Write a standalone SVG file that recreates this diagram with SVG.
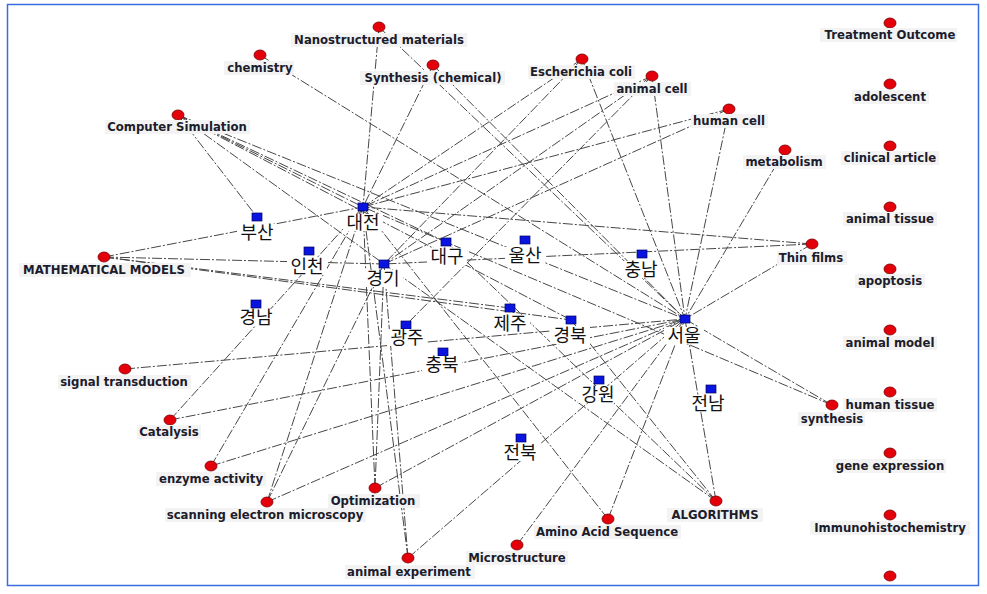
<svg xmlns="http://www.w3.org/2000/svg" width="987" height="594" viewBox="0 0 987 594">
<style>
.e{stroke:#474747;stroke-width:1;fill:none;stroke-dasharray:10 2 2 2}
.r{fill:#e4000a;stroke:#7a0000;stroke-width:0.8}
.b{fill:#0a14e0;stroke:#00005a;stroke-width:0.7}
.lb{fill:#f3f3f3}
.kb{fill:#ffffff}
.t{font-family:"DejaVu Sans",Verdana,sans-serif;font-weight:bold;font-size:11.7px;fill:#1c1c2c;text-anchor:middle}
.k{font-family:"Noto Sans CJK KR","Noto Sans CJK SC",sans-serif;font-size:18px;fill:#111;text-anchor:middle}
</style>
<rect x="0" y="0" width="987" height="594" fill="#ffffff"/>
<rect x="7.5" y="4.5" width="971" height="581" fill="none" stroke="#3a6ee0" stroke-width="1.5"/>
<g id="connectors">
<line class="e" x1="379" y1="27" x2="363" y2="207"/>
<line class="e" x1="379" y1="27" x2="685" y2="319"/>
<line class="e" x1="260" y1="55" x2="685" y2="319"/>
<line class="e" x1="433" y1="65" x2="363" y2="207"/>
<line class="e" x1="433" y1="65" x2="685" y2="319"/>
<line class="e" x1="582" y1="59" x2="363" y2="207"/>
<line class="e" x1="582" y1="59" x2="384" y2="264"/>
<line class="e" x1="582" y1="59" x2="685" y2="319"/>
<line class="e" x1="652" y1="76" x2="363" y2="207"/>
<line class="e" x1="652" y1="76" x2="384" y2="264"/>
<line class="e" x1="652" y1="76" x2="406" y2="325"/>
<line class="e" x1="652" y1="76" x2="685" y2="319"/>
<line class="e" x1="729" y1="109" x2="363" y2="207"/>
<line class="e" x1="729" y1="109" x2="384" y2="264"/>
<line class="e" x1="729" y1="109" x2="685" y2="319"/>
<line class="e" x1="785" y1="150" x2="685" y2="319"/>
<line class="e" x1="812" y1="244" x2="363" y2="207"/>
<line class="e" x1="812" y1="244" x2="384" y2="264"/>
<line class="e" x1="812" y1="244" x2="685" y2="319"/>
<line class="e" x1="178" y1="115" x2="257" y2="217"/>
<line class="e" x1="178" y1="115" x2="384" y2="264"/>
<line class="e" x1="178" y1="115" x2="363" y2="207"/>
<line class="e" x1="178" y1="115" x2="446" y2="242"/>
<line class="e" x1="178" y1="115" x2="571" y2="320"/>
<line class="e" x1="178" y1="115" x2="685" y2="319"/>
<line class="e" x1="104" y1="257" x2="363" y2="207"/>
<line class="e" x1="104" y1="257" x2="384" y2="264"/>
<line class="e" x1="104" y1="257" x2="510" y2="308"/>
<line class="e" x1="104" y1="257" x2="571" y2="320"/>
<line class="e" x1="125" y1="369" x2="685" y2="319"/>
<line class="e" x1="170" y1="420" x2="363" y2="207"/>
<line class="e" x1="170" y1="420" x2="685" y2="319"/>
<line class="e" x1="211" y1="466" x2="363" y2="207"/>
<line class="e" x1="211" y1="466" x2="685" y2="319"/>
<line class="e" x1="267" y1="502" x2="363" y2="207"/>
<line class="e" x1="267" y1="502" x2="384" y2="264"/>
<line class="e" x1="267" y1="502" x2="685" y2="319"/>
<line class="e" x1="375" y1="488" x2="363" y2="207"/>
<line class="e" x1="375" y1="488" x2="384" y2="264"/>
<line class="e" x1="375" y1="488" x2="685" y2="319"/>
<line class="e" x1="408" y1="558" x2="363" y2="207"/>
<line class="e" x1="408" y1="558" x2="384" y2="264"/>
<line class="e" x1="408" y1="558" x2="685" y2="319"/>
<line class="e" x1="517" y1="545" x2="685" y2="319"/>
<line class="e" x1="608" y1="519" x2="363" y2="207"/>
<line class="e" x1="608" y1="519" x2="685" y2="319"/>
<line class="e" x1="716" y1="501" x2="685" y2="319"/>
<line class="e" x1="716" y1="501" x2="384" y2="264"/>
<line class="e" x1="716" y1="501" x2="446" y2="242"/>
<line class="e" x1="716" y1="501" x2="571" y2="320"/>
<line class="e" x1="832" y1="405" x2="685" y2="319"/>
<line class="e" x1="832" y1="405" x2="363" y2="207"/>
</g>
<g id="n-nano"><ellipse class="r" cx="379" cy="27" rx="6" ry="5"/><rect class="lb" x="291" y="33" width="176" height="14"/><text class="t" x="379" y="44">Nanostructured materials</text></g>
<g id="n-chem"><ellipse class="r" cx="260" cy="55" rx="6" ry="5"/><rect class="lb" x="224" y="61" width="70" height="14"/><text class="t" x="260" y="72">chemistry</text></g>
<g id="n-synch"><ellipse class="r" cx="433" cy="65" rx="6" ry="5"/><rect class="lb" x="360" y="71" width="145" height="14"/><text class="t" x="433" y="82">Synthesis (chemical)</text></g>
<g id="n-ecoli"><ellipse class="r" cx="582" cy="59" rx="6" ry="5"/><rect class="lb" x="528" y="65" width="107" height="14"/><text class="t" x="581" y="76">Escherichia coli</text></g>
<g id="n-acell"><ellipse class="r" cx="652" cy="76" rx="6" ry="5"/><rect class="lb" x="614" y="82" width="77" height="14"/><text class="t" x="652" y="93">animal cell</text></g>
<g id="n-hcell"><ellipse class="r" cx="729" cy="109" rx="6" ry="5"/><rect class="lb" x="691" y="114" width="77" height="14"/><text class="t" x="729" y="125">human cell</text></g>
<g id="n-metab"><ellipse class="r" cx="785" cy="150" rx="6" ry="5"/><rect class="lb" x="743" y="155" width="83" height="14"/><text class="t" x="784" y="166">metabolism</text></g>
<g id="n-treat"><ellipse class="r" cx="890" cy="23" rx="6" ry="5"/><rect class="lb" x="820" y="28" width="137" height="14"/><text class="t" x="890" y="39">Treatment Outcome</text></g>
<g id="n-adol"><ellipse class="r" cx="890" cy="84" rx="6" ry="5"/><rect class="lb" x="852" y="90" width="77" height="14"/><text class="t" x="890" y="101">adolescent</text></g>
<g id="n-clin"><ellipse class="r" cx="890" cy="146" rx="6" ry="5"/><rect class="lb" x="841" y="151" width="98" height="14"/><text class="t" x="890" y="162">clinical article</text></g>
<g id="n-atis"><ellipse class="r" cx="890" cy="207" rx="6" ry="5"/><rect class="lb" x="843" y="212" width="94" height="14"/><text class="t" x="890" y="223">animal tissue</text></g>
<g id="n-thin"><ellipse class="r" cx="812" cy="244" rx="6" ry="5"/><rect class="lb" x="777" y="251" width="70" height="14"/><text class="t" x="811" y="262">Thin films</text></g>
<g id="n-apop"><ellipse class="r" cx="890" cy="269" rx="6" ry="5"/><rect class="lb" x="855" y="274" width="70" height="14"/><text class="t" x="890" y="285">apoptosis</text></g>
<g id="n-amod"><ellipse class="r" cx="890" cy="330" rx="6" ry="5"/><rect class="lb" x="843" y="336" width="94" height="14"/><text class="t" x="890" y="347">animal model</text></g>
<g id="n-htis"><ellipse class="r" cx="890" cy="392" rx="6" ry="5"/><rect class="lb" x="843" y="398" width="94" height="14"/><text class="t" x="890" y="409">human tissue</text></g>
<g id="n-synth"><ellipse class="r" cx="832" cy="405" rx="6" ry="5"/><rect class="lb" x="798" y="412" width="67" height="14"/><text class="t" x="832" y="423">synthesis</text></g>
<g id="n-gene"><ellipse class="r" cx="890" cy="453" rx="6" ry="5"/><rect class="lb" x="833" y="459" width="113" height="14"/><text class="t" x="890" y="470">gene expression</text></g>
<g id="n-immu"><ellipse class="r" cx="890" cy="515" rx="6" ry="5"/><rect class="lb" x="810" y="521" width="160" height="14"/><text class="t" x="890" y="532">Immunohistochemistry</text></g>
<g id="n-last"><ellipse class="r" cx="890" cy="576" rx="6" ry="5"/></g>
<g id="n-cs"><ellipse class="r" cx="178" cy="115" rx="6" ry="5"/><rect class="lb" x="105" y="120" width="145" height="14"/><text class="t" x="177" y="131">Computer Simulation</text></g>
<g id="n-mm"><ellipse class="r" cx="104" cy="257" rx="6" ry="5"/><rect class="lb" x="19" y="263" width="172" height="14"/><text class="t" x="104" y="274">MATHEMATICAL MODELS</text></g>
<g id="n-sig"><ellipse class="r" cx="125" cy="369" rx="6" ry="5"/><rect class="lb" x="58" y="375" width="133" height="14"/><text class="t" x="124" y="386">signal transduction</text></g>
<g id="n-cat"><ellipse class="r" cx="170" cy="420" rx="6" ry="5"/><rect class="lb" x="137" y="425" width="64" height="14"/><text class="t" x="169" y="436">Catalysis</text></g>
<g id="n-enz"><ellipse class="r" cx="211" cy="466" rx="6" ry="5"/><rect class="lb" x="156" y="472" width="110" height="14"/><text class="t" x="211" y="483">enzyme activity</text></g>
<g id="n-sem"><ellipse class="r" cx="267" cy="502" rx="6" ry="5"/><rect class="lb" x="165" y="508" width="201" height="14"/><text class="t" x="265" y="519">scanning electron microscopy</text></g>
<g id="n-opt"><ellipse class="r" cx="375" cy="488" rx="6" ry="5"/><rect class="lb" x="328" y="494" width="92" height="14"/><text class="t" x="373" y="505">Optimization</text></g>
<g id="n-aexp"><ellipse class="r" cx="408" cy="558" rx="6" ry="5"/><rect class="lb" x="345" y="565" width="130" height="14"/><text class="t" x="409" y="576">animal experiment</text></g>
<g id="n-micro"><ellipse class="r" cx="517" cy="545" rx="6" ry="5"/><rect class="lb" x="466" y="551" width="102" height="14"/><text class="t" x="517" y="562">Microstructure</text></g>
<g id="n-amino"><ellipse class="r" cx="608" cy="519" rx="6" ry="5"/><rect class="lb" x="534" y="525" width="147" height="14"/><text class="t" x="607" y="536">Amino Acid Sequence</text></g>
<g id="n-algo"><ellipse class="r" cx="716" cy="501" rx="6" ry="5"/><rect class="lb" x="667" y="508" width="96" height="14"/><text class="t" x="715" y="519">ALGORITHMS</text></g>
<g id="n-dj"><rect class="b" x="358" y="203" width="10" height="8"/><rect class="kb" x="343" y="214" width="40" height="17"/><text class="k" x="363" y="229">대전</text></g>
<g id="n-bs"><rect class="b" x="252" y="213" width="10" height="8"/><rect class="kb" x="237" y="224" width="40" height="17"/><text class="k" x="257" y="239">부산</text></g>
<g id="n-ic"><rect class="b" x="304" y="247" width="10" height="8"/><rect class="kb" x="287" y="258" width="40" height="17"/><text class="k" x="307" y="273">인천</text></g>
<g id="n-gn"><rect class="b" x="251" y="300" width="10" height="8"/><rect class="kb" x="236" y="309" width="40" height="17"/><text class="k" x="256" y="324">경남</text></g>
<g id="n-gg"><rect class="b" x="379" y="260" width="10" height="8"/><rect class="kb" x="363" y="270" width="40" height="17"/><text class="k" x="383" y="285">경기</text></g>
<g id="n-dg"><rect class="b" x="441" y="238" width="10" height="8"/><rect class="kb" x="427" y="248" width="40" height="17"/><text class="k" x="447" y="263">대구</text></g>
<g id="n-us"><rect class="b" x="520" y="236" width="10" height="8"/><rect class="kb" x="505" y="247" width="40" height="17"/><text class="k" x="525" y="262">울산</text></g>
<g id="n-cn"><rect class="b" x="637" y="250" width="10" height="8"/><rect class="kb" x="621" y="261" width="40" height="17"/><text class="k" x="641" y="276">충남</text></g>
<g id="n-se"><rect class="b" x="680" y="315" width="10" height="8"/><rect class="kb" x="664" y="327" width="40" height="17"/><text class="k" x="684" y="342">서울</text></g>
<g id="n-jj"><rect class="b" x="505" y="304" width="10" height="8"/><rect class="kb" x="490" y="315" width="40" height="17"/><text class="k" x="510" y="330">제주</text></g>
<g id="n-gb"><rect class="b" x="566" y="316" width="10" height="8"/><rect class="kb" x="550" y="327" width="40" height="17"/><text class="k" x="570" y="342">경북</text></g>
<g id="n-gj"><rect class="b" x="401" y="321" width="10" height="8"/><rect class="kb" x="387" y="329" width="40" height="17"/><text class="k" x="407" y="344">광주</text></g>
<g id="n-cb"><rect class="b" x="438" y="348" width="10" height="8"/><rect class="kb" x="422" y="356" width="40" height="17"/><text class="k" x="442" y="371">충북</text></g>
<g id="n-gw"><rect class="b" x="594" y="376" width="10" height="8"/><rect class="kb" x="578" y="386" width="40" height="17"/><text class="k" x="598" y="401">강원</text></g>
<g id="n-jn"><rect class="b" x="706" y="385" width="10" height="8"/><rect class="kb" x="688" y="395" width="40" height="17"/><text class="k" x="708" y="410">전남</text></g>
<g id="n-jb"><rect class="b" x="516" y="434" width="10" height="8"/><rect class="kb" x="500" y="444" width="40" height="17"/><text class="k" x="520" y="459">전북</text></g>
</svg>
